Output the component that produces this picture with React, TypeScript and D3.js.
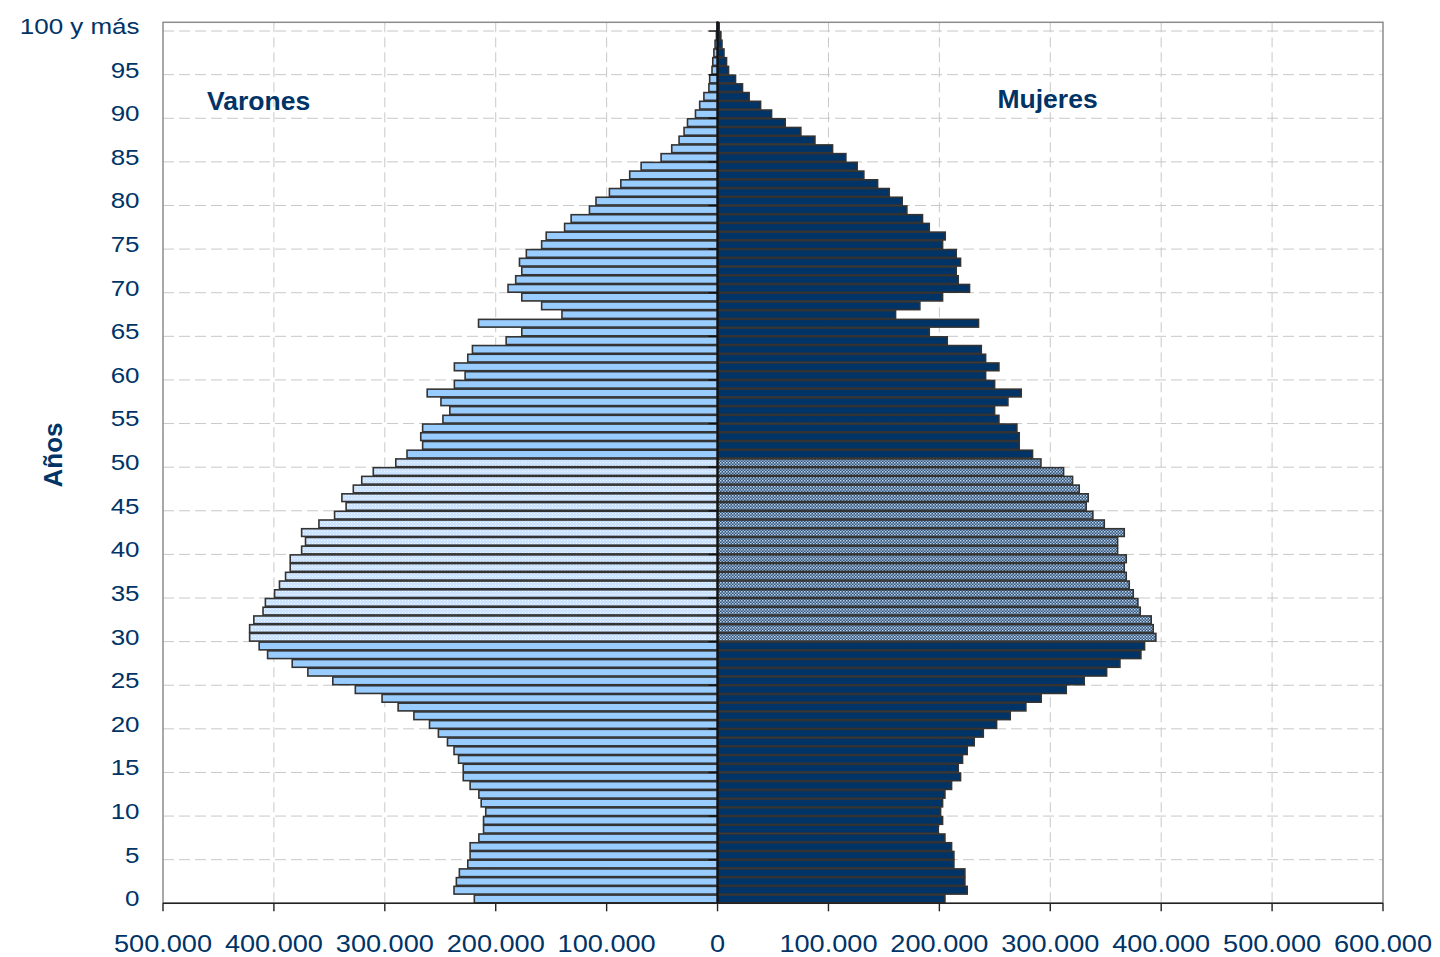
import React from "react";
import * as d3 from "d3";

// Ages 0..100 ("100 y más")
const ages: number[] = d3.range(0, 101);

// Population, in thousands, index = age
const varones: number[] = [
  219.3, 237.6, 235.5, 232.8, 225.2, 223.1, 223.1, 215.2, 211.0, 211.0,
  209.0, 213.1, 215.2, 223.1, 229.3, 229.3, 233.5, 237.6, 243.5, 251.7,
  259.7, 273.8, 288.0, 302.5, 326.6, 346.9, 369.4, 383.5, 405.7, 413.3,
  421.9, 421.9, 418.1, 409.8, 407.7, 399.4, 395.0, 389.5, 385.3, 385.3,
  375.0, 371.5, 375.0, 359.4, 345.3, 334.9, 338.7, 328.4, 320.8, 310.4,
  290.1, 280.0, 265.9, 267.6, 265.9, 247.6, 241.4, 249.4, 261.8, 237.3,
  227.6, 237.3, 225.2, 221.0, 190.6, 176.5, 215.5, 140.3, 158.6, 176.5,
  188.9, 182.0, 176.5, 178.6, 172.4, 158.6, 154.5, 137.9, 132.0, 115.5,
  109.6, 97.5, 87.2, 79.2, 68.9, 50.9, 41.3, 34.7, 30.2, 27.1,
  19.9, 16.1, 12.3, 7.8, 7.1, 5.0, 4.3, 3.3, 2.2, 1.0,
  0.5,
];

const mujeres: number[] = [
  205.0, 225.1, 223.0, 223.0, 213.1, 213.1, 211.0, 205.0, 199.0, 202.9,
  201.1, 202.9, 205.0, 211.0, 219.1, 217.0, 220.9, 225.1, 231.4, 239.6,
  251.6, 263.9, 278.0, 291.8, 314.4, 330.6, 350.8, 362.8, 381.7, 385.0,
  395.2, 392.8, 391.0, 381.1, 379.0, 374.8, 371.2, 368.5, 366.7, 368.5,
  360.7, 360.7, 366.7, 348.7, 338.4, 332.4, 334.2, 326.1, 320.1, 312.0,
  291.6, 284.0, 272.0, 272.0, 269.9, 253.7, 249.8, 261.8, 273.8, 249.8,
  241.7, 253.7, 241.7, 237.8, 207.1, 190.9, 235.3, 160.5, 182.4, 202.9,
  227.2, 217.0, 215.2, 219.1, 215.2, 202.9, 205.3, 190.9, 184.8, 170.7,
  166.5, 154.8, 144.3, 131.9, 125.9, 115.7, 103.7, 87.8, 75.1, 61.0,
  48.7, 38.8, 28.5, 22.5, 16.2, 9.9, 8.1, 5.8, 4.0, 3.0,
  1.5,
];

// highlighted cohort (patterned bars)
const highlightFrom = 30;
const highlightTo = 50;

const xTicks: number[] = [-500000, -400000, -300000, -200000, -100000, 0, 100000, 200000, 300000, 400000, 500000, 600000];
const yTickAges: number[] = [0, 5, 10, 15, 20, 25, 30, 35, 40, 45, 50, 55, 60, 65, 70, 75, 80, 85, 90, 95, 100];
const yTickLabels: string[] = yTickAges.map((a) => (a === 100 ? "100 y más" : String(a)));

const NAVY = "#003366";
const FONT = "'Liberation Sans', Arial, sans-serif";

export default function App() {
  const left = 163;
  const right = 1383;
  const top = 22.3;
  const bottom = 903.3;

  const x = d3.scaleLinear().domain([-500000, 600000]).range([left, right]);
  const y = d3
    .scaleBand<number>()
    .domain([...ages].reverse())
    .range([top, bottom])
    .padding(0);
  const bw = y.bandwidth();
  const x0 = x(0);
  const fmt = (v: number) =>
    Math.abs(v)
      .toString()
      .replace(/\B(?=(\d{3})+(?!\d))/g, ".");

  const gridYs = yTickAges.filter((a) => a > 0).map((a) => (y(a) as number) + bw);
  const inset = 0.5;

  return (
    <svg
      width={1440}
      height={957}
      style={{ position: "absolute", left: 0, top: 0, background: "#fff" }}
      fontFamily={FONT}
    >
      <defs>
        <pattern id="mPat" width="3" height="3" patternUnits="userSpaceOnUse">
          <rect width="3" height="3" fill="#C8E2FF" />
          <rect x="0" y="0" width="1" height="1" fill="#F2F8FF" />
          <rect x="1.5" y="1.5" width="1" height="1" fill="#E4F0FF" />
        </pattern>
        <pattern id="fPat" width="3" height="3" patternUnits="userSpaceOnUse">
          <rect width="3" height="3" fill="#2E5580" />
          <rect x="0" y="0" width="1.5" height="1.5" fill="#C6D6E8" />
          <rect x="1.5" y="1.5" width="1.5" height="1.5" fill="#9AB2CC" />
        </pattern>
      </defs>

      {/* vertical gridlines */}
      {xTicks
        .filter((t) => t !== 0 && t !== -500000 && t !== 600000)
        .map((t) => (
          <line
            key={"vg" + t}
            x1={x(t)}
            x2={x(t)}
            y1={top}
            y2={bottom}
            stroke="#C8C8C8"
            strokeWidth={1}
            strokeDasharray="10,5"
          />
        ))}
      {/* horizontal gridlines */}
      {gridYs.map((gy, i) => (
        <line
          key={"hg" + i}
          x1={left}
          x2={right}
          y1={gy}
          y2={gy}
          stroke="#C8C8C8"
          strokeWidth={1}
          strokeDasharray="11,5"
        />
      ))}

      {/* plot frame */}
      <rect
        x={left}
        y={top}
        width={right - left}
        height={bottom - top}
        fill="none"
        stroke="#8C8C8C"
        strokeWidth={1.5}
      />

      {/* male bars */}
      {ages.map((a) => {
        const v = varones[a] * 1000;
        const hi = a >= highlightFrom && a <= highlightTo;
        return (
          <rect
            key={"m" + a}
            x={x(-v)}
            y={(y(a) as number) + inset}
            width={x0 - x(-v)}
            height={bw - 2 * inset}
            fill={hi ? "url(#mPat)" : "#99CCFF"}
            stroke="#333333"
            strokeWidth={1.6}
          />
        );
      })}
      {/* female bars */}
      {ages.map((a) => {
        const v = mujeres[a] * 1000;
        const hi = a >= highlightFrom && a <= highlightTo;
        return (
          <rect
            key={"f" + a}
            x={x0}
            y={(y(a) as number) + inset}
            width={x(v) - x0}
            height={bw - 2 * inset}
            fill={hi ? "url(#fPat)" : NAVY}
            stroke="#333333"
            strokeWidth={1.6}
          />
        );
      })}

      {/* center axis */}
      <line x1={x0} x2={x0} y1={top - 1} y2={bottom} stroke="#111" strokeWidth={2.2} />
      {gridYs.map((gy, i) => (
        <line key={"ct" + i} x1={x0 - 9} x2={x0} y1={gy} y2={gy} stroke="#111" strokeWidth={1.4} />
      ))}

      {/* bottom axis */}
      <line x1={left} x2={right} y1={bottom} y2={bottom} stroke="#222" strokeWidth={1.6} />
      {xTicks.map((t) => (
        <line key={"xt" + t} x1={x(t)} x2={x(t)} y1={bottom} y2={bottom + 8} stroke="#222" strokeWidth={1.4} />
      ))}
      {xTicks.map((t) => (
        <text
          key={"xl" + t}
          transform={`translate(${x(t)},${951.5}) scale(1.18,1)`}
          textAnchor="middle"
          fontSize={23}
          fill={NAVY}
        >
          {fmt(t)}
        </text>
      ))}

      {/* y tick labels */}
      {yTickAges.map((a, i) => (
        <text
          key={"yl" + a}
          transform={`translate(139.5,${(y(a) as number) + bw / 2 + 7.3}) scale(1.18,1)`}
          textAnchor="end"
          fontSize={22}
          fill={NAVY}
        >
          {yTickLabels[i]}
        </text>
      ))}

      {/* axis title */}
      <text
        transform="translate(61.5,455) rotate(-90)"
        textAnchor="middle"
        fontSize={26}
        fontWeight="bold"
        fill={NAVY}
      >
        Años
      </text>

      {/* series labels */}
      <text x={207} y={110} fontSize={26.5} fontWeight="bold" fill={NAVY}>
        Varones
      </text>
      <text x={997.5} y={108.3} fontSize={26.5} fontWeight="bold" fill={NAVY}>
        Mujeres
      </text>
    </svg>
  );
}
